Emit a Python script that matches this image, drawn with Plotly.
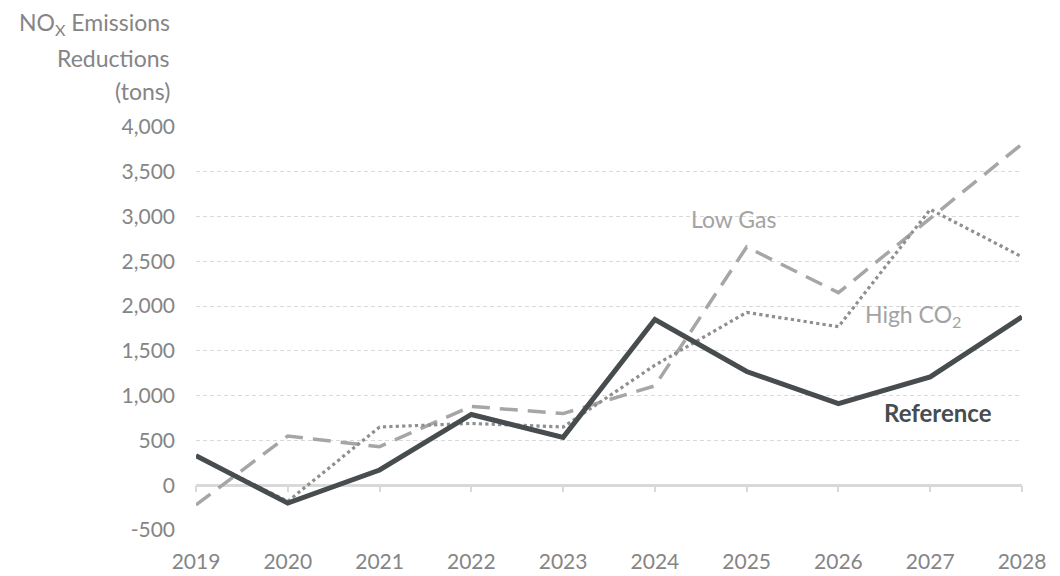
import plotly.graph_objects as go

years = [2019, 2020, 2021, 2022, 2023, 2024, 2025, 2026, 2027, 2028]
reference = [330, -200, 170, 790, 535, 1850, 1270, 910, 1210, 1880]
low_gas = [-220, 550, 430, 880, 800, 1110, 2660, 2150, 2980, 3810]
high_co2 = [330, -180, 650, 690, 650, 1340, 1930, 1770, 3080, 2550]
ytick_vals = [-500, 0, 500, 1000, 1500, 2000, 2500, 3000, 3500, 4000]
ytick_text = ["-500", "0", "500", "1,000", "1,500", "2,000", "2,500", "3,000", "3,500", "4,000"]

FONT = "Lato"
TICK_COLOR = "#858585"
LABEL_COLOR = "#a3a3a3"
GRID = "#d9d9d9"

W, H = 1060, 576
PL, PR, PT, PB = 196, 1022, 127, 530  # plot area in page pixels
fig = go.Figure()
fig.add_trace(go.Scatter(x=years, y=low_gas, mode="lines", name="Low Gas",
                         line=dict(color="#a6a6a6", width=3.5, dash="18px,10px")))
fig.add_trace(go.Scatter(x=years, y=high_co2, mode="lines", name="High CO2",
                         line=dict(color="#8f8f8f", width=3.2, dash="dot")))
fig.add_trace(go.Scatter(x=years, y=reference, mode="lines", name="Reference",
                         line=dict(color="#474c4e", width=5)))
# invisible trace on secondary axis carrying the zero-line tick marks
fig.add_trace(go.Scatter(x=years, y=[None]*len(years), xaxis="x2", showlegend=False,
                         hoverinfo="skip", mode="lines"))

fig.update_layout(
    width=W, height=H,
    margin=dict(l=PL, r=W - PR, t=PT, b=H - PB, autoexpand=False),
    paper_bgcolor="white", plot_bgcolor="white",
    showlegend=False,
    font=dict(family=FONT, size=21, color=TICK_COLOR),
    xaxis=dict(range=[2019, 2028], tickvals=years, ticktext=[str(y) for y in years],
               showgrid=False, zeroline=False, showline=False, ticks="", automargin=False,
               ticklabelstandoff=17, tickfont=dict(size=21, color=TICK_COLOR)),
    xaxis2=dict(range=[2019, 2028], overlaying="x", anchor="free", position=500/4500,
                tickvals=years, showticklabels=False, ticks="outside", ticklen=6, automargin=False,
                tickcolor=GRID, tickwidth=1.5, showline=False, showgrid=False, zeroline=False),
    yaxis=dict(range=[-500, 4000], tickvals=ytick_vals, ticktext=ytick_text,
               showgrid=True, gridcolor=GRID, griddash="4px,3px", gridwidth=1,
               zeroline=True, zerolinecolor=GRID, zerolinewidth=3, automargin=False,
               showline=False, ticks="", ticklabelstandoff=20,
               tickfont=dict(size=21, color=TICK_COLOR)),
)

pw, ph = PR - PL, PB - PT
title_lines = ["NO<sub>X</sub> Emissions", "Reductions", "(tons)"]
title_y = [24, 58, 91]
for txt, py in zip(title_lines, title_y):
    fig.add_annotation(text=txt, xref="paper", yref="paper",
                       x=(172 - PL) / pw, y=1 + (PT - py) / ph,
                       xanchor="right", yanchor="middle", showarrow=False,
                       font=dict(family=FONT, size=23, color=TICK_COLOR))

fig.add_annotation(text="Low Gas", x=2024.86, y=2969, xref="x", yref="y",
                   showarrow=False, xanchor="center", yanchor="middle",
                   font=dict(family=FONT, size=23, color=LABEL_COLOR))
fig.add_annotation(text="High CO<sub>2</sub>", x=2026.81, y=1890, xref="x", yref="y",
                   showarrow=False, xanchor="center", yanchor="middle",
                   font=dict(family=FONT, size=23, color=LABEL_COLOR))
fig.add_annotation(text="<b>Reference</b>", x=2027.08, y=815, xref="x", yref="y",
                   showarrow=False, xanchor="center", yanchor="middle",
                   font=dict(family=FONT, size=24, color="#474c4e"))

fig.write_html("out.html", config={"displayModeBar": False},
               post_script="document.body.style.margin='0';document.body.style.overflow='hidden';")
